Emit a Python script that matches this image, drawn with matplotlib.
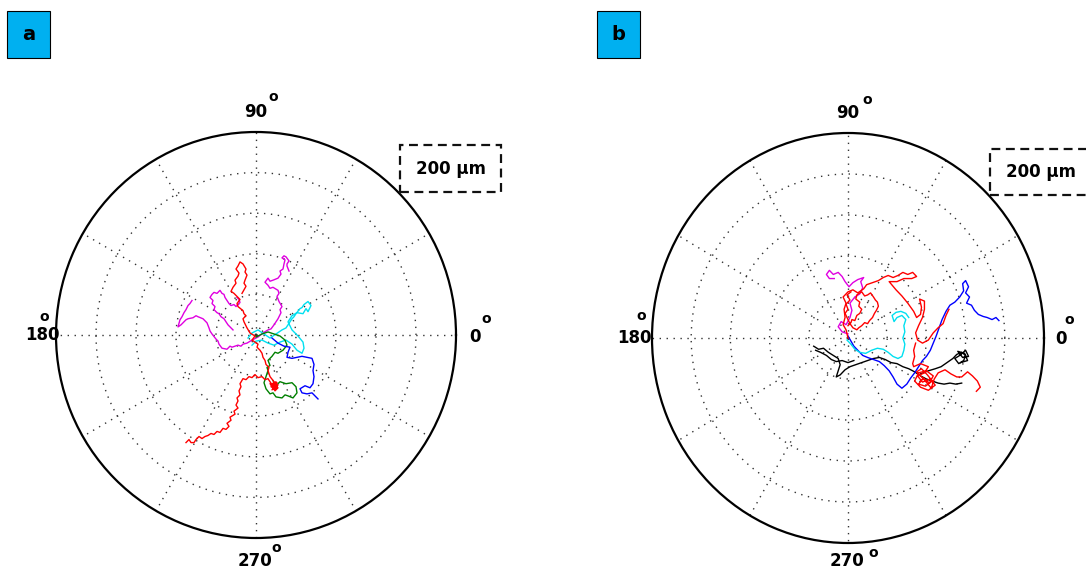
import numpy as np
import matplotlib
matplotlib.use('Agg')
import matplotlib.pyplot as plt
from matplotlib.patches import Rectangle

# cell tracks: (x, y) displacement from the start point, in um
a_red = [(-14, 41), (-10, 48), (-12, 51), (-11, 54), (-9, 59), (-11, 62), (-10, 65),
         (-13, 70), (-16, 72), (-18, 68), (-20, 65), (-17, 61), (-18, 58), (-21, 54),
         (-20, 51), (-23, 47), (-25, 43), (-22, 41), (-20, 39), (-16, 35), (-19, 31),
         (-18, 28), (-13, 24), (-12, 21), (-10, 19), (-13, 16), (-12, 13), (-9, 7),
         (-6, 2), (-1, -1), (-4, -5), (2, -9), (1, -12), (4, -15), (6, -18), (7, -22),
         (9, -25), (10, -29), (13, -32), (12, -35), (14, -41), (18, -46), (15, -51),
         (20, -53), (22, -49), (17, -48), (21, -51), (16, -54), (19, -50), (14, -48),
         (18, -52), (21, -47), (15, -49), (19, -55), (22, -52), (17, -50), (20, -46),
         (16, -49), (12, -43), (9, -44), (6, -41), (2, -42), (-1, -39), (-4, -42),
         (-7, -41), (-10, -44), (-13, -43), (-16, -48), (-15, -51), (-17, -55),
         (-16, -59), (-19, -62), (-18, -65), (-20, -69), (-18, -72), (-22, -75),
         (-21, -78), (-26, -81), (-25, -84), (-29, -87), (-27, -90), (-30, -93),
         (-33, -92), (-36, -96), (-39, -95), (-42, -98), (-45, -97), (-48, -99),
         (-51, -100), (-54, -102), (-57, -100), (-60, -103), (-62, -106), (-65, -106),
         (-67, -103), (-70, -106)]
a_magenta = [(-64, 34), (-66, 31), (-68, 29), (-70, 25), (-72, 22), (-74, 18), (-76, 15),
             (-78, 8), (-75, 10), (-73, 12), (-70, 15), (-68, 16), (-63, 17), (-60, 19),
             (-58, 18), (-53, 16), (-51, 14), (-49, 12), (-47, 7), (-46, 4), (-44, 1),
             (-40, -4), (-38, -6), (-37, -9), (-34, -13), (-29, -14), (-26, -11),
             (-24, -12), (-18, -10), (-15, -11), (-13, -9), (-9, -8), (-4, -5), (2, -2),
             (7, 2), (12, 5), (15, 6), (18, 10), (20, 13), (22, 16), (25, 22), (24, 25),
             (26, 28), (23, 33), (21, 38), (23, 41), (22, 44), (17, 47), (14, 46),
             (12, 49), (9, 52), (12, 56), (14, 53), (17, 54), (22, 56), (25, 60),
             (24, 63), (27, 65), (28, 70), (29, 74), (26, 76), (28, 78), (30, 77),
             (33, 73), (31, 70), (31, 68), (33, 63)]
a_magenta2 = [(-23, 5), (-26, 8), (-28, 10), (-30, 13), (-32, 16), (-35, 18), (-37, 21),
              (-39, 22), (-42, 25), (-41, 28), (-44, 31), (-43, 34), (-46, 37),
              (-44, 40), (-42, 42), (-39, 41), (-36, 44), (-34, 41), (-32, 40),
              (-31, 37), (-29, 34), (-27, 31), (-25, 29), (-22, 30), (-20, 28),
              (-16, 32), (-17, 35), (-19, 37)]
a_cyan = [(-8, -3), (-4, 2), (2, 5), (8, 1), (14, -3), (20, 1), (26, 5), (30, 7), (32, 10),
          (36, 16), (38, 18), (40, 21), (44, 26), (46, 27), (48, 30), (52, 33), (55, 29),
          (52, 23), (50, 26), (47, 21), (41, 22), (36, 19), (32, 13), (34, 9), (36, 5),
          (42, -1), (47, -7), (48, -13), (46, -18), (41, -15), (36, -9), (30, -5),
          (24, -7), (18, -10), (12, -8), (6, -5), (0, -6), (-4, -10)]
a_green = [(0, -2), (6, 1), (12, 3), (18, 1), (24, -1), (29, -5), (31, -10), (27, -15),
           (22, -18), (19, -17), (16, -21), (12, -25), (14, -30), (11, -32), (12, -35),
           (10, -41), (8, -47), (10, -53), (14, -58), (17, -57), (20, -61), (26, -62),
           (29, -59), (32, -60), (37, -62), (41, -57), (40, -51), (36, -47), (30, -48),
           (24, -46), (20, -50), (17, -45)]
a_blue = [(16, -3), (22, -8), (28, -11), (34, -12), (32, -17), (31, -22), (36, -23),
          (41, -22), (46, -21), (51, -22), (56, -23), (58, -29), (57, -35), (58, -41),
          (57, -48), (54, -52), (49, -50), (44, -53), (46, -57), (51, -58), (56, -57),
          (60, -61), (62, -63)]

b_red = [(0, 0), (-2, 8), (-5, 13), (-3, 20), (-4, 28), (-2, 34), (-5, 40), (0, 45),
         (5, 47), (10, 44), (16, 48), (19, 52), (25, 54), (31, 56), (36, 59), (41, 61),
         (46, 59), (51, 61), (56, 64), (61, 62), (66, 64), (70, 60), (65, 58), (57, 58),
         (50, 55), (42, 55), (49, 47), (55, 41), (61, 34), (67, 26), (70, 20), (74, 23),
         (75, 30), (73, 38), (78, 36), (78, 28), (76, 20), (72, 12), (69, 5), (71, -2),
         (76, -5), (82, -2), (87, 5), (92, 10), (97, 14), (100, 22), (103, 28)]
b_red2 = [(0, 12), (3, 15), (4, 18), (7, 17), (9, 22), (12, 24), (14, 28), (11, 31),
          (12, 35), (8, 38), (9, 42), (12, 44), (14, 45), (17, 41), (20, 42), (23, 44),
          (26, 40), (28, 37), (30, 35), (31, 31), (29, 27), (27, 24), (25, 20), (22, 17),
          (20, 14), (17, 15), (14, 12), (11, 10), (9, 8), (5, 10), (2, 14), (-1, 20),
          (-3, 24), (0, 28), (-2, 33), (2, 37), (-1, 42), (3, 45)]
b_red3 = [(69, -5), (67, -12), (68, -18), (66, -25), (67, -28), (74, -25), (82, -28),
          (78, -34), (71, -37), (76, -43), (84, -40), (89, -46), (82, -51), (74, -48),
          (68, -42), (72, -34), (80, -32), (87, -37), (83, -44), (77, -39), (72, -45),
          (79, -47), (86, -42), (81, -36), (75, -30), (70, -33), (78, -41), (85, -49),
          (88, -40), (92, -34), (99, -31), (105, -35), (111, -38), (116, -38),
          (122, -33), (127, -37), (132, -42), (135, -48), (131, -52)]
b_magenta = [(0, 4), (-6, 6), (-10, 11), (-7, 16), (-2, 13), (2, 20), (4, 27), (2, 34),
             (7, 40), (12, 43), (15, 49), (13, 55), (16, 59), (10, 57), (5, 54), (1, 50),
             (-3, 55), (-6, 60), (-10, 64), (-15, 62), (-19, 66), (-22, 62), (-19, 58),
             (-14, 58)]
b_cyan = [(-1, -2), (3, -6), (7, -11), (12, -14), (18, -15), (24, -12), (30, -10),
          (36, -11), (41, -14), (46, -18), (51, -20), (55, -18), (57, -12), (58, -6),
          (56, 0), (58, 6), (57, 12), (59, 18), (55, 22), (50, 20), (47, 16), (45, 22),
          (49, 25), (54, 26), (59, 24), (62, 20)]
b_blue = [(0, 2), (3, -3), (6, -8), (10, -12), (15, -17), (20, -19), (26, -21), (32, -23),
          (37, -27), (42, -32), (46, -38), (50, -45), (55, -49), (60, -45), (64, -39),
          (68, -34), (72, -28), (76, -22), (80, -18), (84, -12), (87, -5), (90, 2),
          (93, 10), (96, 18), (100, 26), (104, 32), (109, 35), (114, 40), (118, 46),
          (117, 53), (120, 56), (123, 50), (120, 44), (124, 40), (121, 34), (126, 32),
          (129, 27), (133, 23), (138, 21), (142, 20), (147, 18), (151, 20), (154, 17)]
b_black = [(-35, -8), (-30, -11), (-25, -10), (-20, -14), (-15, -17), (-10, -20),
           (-8, -26), (-10, -32), (-12, -38), (-8, -36), (-3, -31), (2, -28), (8, -26),
           (14, -24), (20, -22), (26, -20), (32, -19), (38, -21), (44, -24), (50, -25),
           (56, -28), (62, -30), (68, -33), (74, -37), (80, -40), (86, -42), (92, -44),
           (98, -45), (104, -44), (110, -45), (116, -44)]
b_black2 = [(74, -35), (82, -32), (89, -30), (95, -28), (101, -24), (107, -20), (111, -16),
            (116, -14), (120, -17), (118, -22), (113, -25), (109, -20), (114, -17),
            (120, -12), (123, -18), (117, -19), (112, -13), (119, -15), (122, -22),
            (115, -24)]
b_black3 = [(-33, -12), (-28, -14), (-22, -17), (-17, -21), (-12, -23), (-6, -22),
            (0, -24), (6, -22)]

panel_a = [(a_magenta, '#e000e0'), (a_magenta2, '#e000e0'), (a_cyan, '#00e0f0'),
           (a_green, '#008000'), (a_blue, '#0000ff'), (a_red, '#ff0000')]
panel_b = [(b_black, 'k'), (b_black2, 'k'), (b_black3, 'k'), (b_blue, '#0000ff'),
           (b_magenta, '#e000e0'), (b_red, '#ff0000'), (b_red2, '#ff0000'),
           (b_red3, '#ff0000'), (b_cyan, '#00e0f0')]

W, H = 1086, 571


def to_polar(track):
    xy = np.array(track, dtype=float)
    return np.arctan2(xy[:, 1], xy[:, 0]), np.hypot(xy[:, 0], xy[:, 1])


def polar_panel(fig, cx, cy, rx, ry, tracks):
    ax = fig.add_axes([(cx - rx) / W, (H - cy - ry) / H, 2 * rx / W, 2 * ry / H],
                      projection='polar')
    ax.set_aspect('auto')
    for tr, c in tracks:
        th, r = to_polar(tr)
        ax.plot(th, r, color=c, lw=1.0)
    ax.set_ylim(0, 200)
    ax.set_rticks([40, 80, 120, 160])
    ax.set_yticklabels([])
    ax.set_thetagrids(np.arange(0, 360, 30), labels=[''] * 12)
    ax.grid(True, color='#333333', lw=1.0, ls=(0, (1, 4)))
    ax.spines['polar'].set_linewidth(1.6)
    return ax


def deg_label(fig, x, y, txt, ox, oy):
    fig.text(x / W, 1 - y / H, txt, ha='center', va='center',
             fontsize=12, fontweight='bold')
    fig.text(ox / W, 1 - oy / H, 'o', ha='center', va='center', fontsize=10,
             fontweight='bold')


def panel_tag(fig, x, y, txt):
    fig.add_artist(Rectangle((x / W, 1 - 58 / H), 43 / W, 47 / H,
                             transform=fig.transFigure, facecolor='#00b0f0',
                             edgecolor='k', lw=0.8))
    fig.text((x + 21.5) / W, 1 - 35 / H, txt, ha='center', va='center', fontsize=14,
             fontweight='bold')


def scale_box(fig, x0, y0, x1, y1):
    fig.add_artist(Rectangle((x0 / W, 1 - y1 / H), (x1 - x0) / W, (y1 - y0) / H,
                             transform=fig.transFigure, fill=False, edgecolor='#111111',
                             lw=1.6, ls=(0, (4, 2.5))))
    fig.text((x0 + 51) / W, 1 - (y0 + y1) / 2 / H, '200 µm', ha='center', va='center',
             fontsize=12, fontweight='bold')


fig = plt.figure(figsize=(W / 100, H / 100), dpi=100)

polar_panel(fig, 256, 335, 200, 203, panel_a)
polar_panel(fig, 848, 338, 196, 205, panel_b)

deg_label(fig, 256, 112, '90', 273, 97)
deg_label(fig, 42, 335, '180', 44, 317)
deg_label(fig, 475, 337, '0', 486, 319)
deg_label(fig, 255, 561, '270', 276, 548)

deg_label(fig, 848, 113, '90', 867, 100)
deg_label(fig, 634, 338, '180', 641, 316)
deg_label(fig, 1061, 339, '0', 1069, 320)
deg_label(fig, 847, 561, '270', 873, 553)

panel_tag(fig, 7, 11, 'a')
panel_tag(fig, 597, 11, 'b')

scale_box(fig, 400, 145, 501, 192)
scale_box(fig, 990, 149, 1096, 195)

fig.savefig('out.png', dpi=100)
